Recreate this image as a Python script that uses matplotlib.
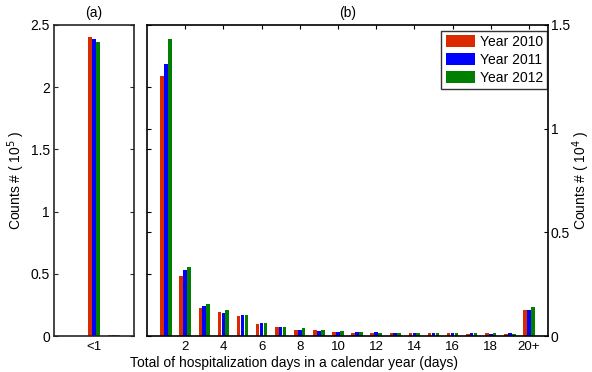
import matplotlib
matplotlib.use('Agg')
import matplotlib.pyplot as plt
import numpy as np

plt.rcParams['font.family'] = ['Liberation Sans', 'DejaVu Sans']
plt.rcParams['font.size'] = 10

# data
years = ['Year 2010', 'Year 2011', 'Year 2012']
colors = ['#dc2a00', '#0000ff', '#007f00']

# panel (a): counts in units of 1e5
a_pos = [0, 1]
a_vals = [
    [2.403, 0.006],
    [2.387, 0.006],
    [2.366, 0.006],
]

# panel (b): days 1..20 (20 = "20+"), counts in units of 1e4
b_days = list(range(1, 21))
b_vals = [
    [1.254, 0.289, 0.135, 0.116, 0.096, 0.058, 0.043, 0.029, 0.029, 0.019,
     0.014, 0.014, 0.014, 0.014, 0.014, 0.014, 0.010, 0.014, 0.010, 0.125],
    [1.312, 0.318, 0.145, 0.111, 0.101, 0.063, 0.043, 0.029, 0.024, 0.019,
     0.019, 0.019, 0.014, 0.014, 0.014, 0.014, 0.014, 0.010, 0.014, 0.125],
    [1.433, 0.333, 0.154, 0.125, 0.101, 0.063, 0.043, 0.039, 0.029, 0.024,
     0.019, 0.014, 0.014, 0.014, 0.014, 0.014, 0.014, 0.014, 0.010, 0.140],
]
b_ticks = [2, 4, 6, 8, 10, 12, 14, 16, 18, 20]
b_ticklabels = ['2', '4', '6', '8', '10', '12', '14', '16', '18', '20+']

W, H = 592, 372
fig = plt.figure(figsize=(W / 100, H / 100), dpi=100)
ax_a = fig.add_axes([54 / W, 1 - 336 / H, 80 / W, 311 / H])
ax_b = fig.add_axes([147 / W, 1 - 336 / H, 401 / W, 311 / H])

offsets = [-0.205, 0, 0.205]
bw = 0.19

for k in range(3):
    ax_a.bar(np.array(a_pos) + offsets[k], a_vals[k], width=bw,
             color=colors[k], linewidth=0)
    ax_b.bar(np.array(b_days) + offsets[k], b_vals[k], width=bw,
             color=colors[k], linewidth=0, label=years[k])

# panel (a)
ax_a.set_xlim(-2, 2)
ax_a.set_ylim(0, 2.5)
ax_a.set_xticks([0])
ax_a.set_xticklabels(['<1'])
ax_a.set_yticks([0, 0.5, 1, 1.5, 2, 2.5])
ax_a.set_yticklabels(['0', '0.5', '1', '1.5', '2', '2.5'])
ax_a.tick_params(direction='in', length=3, width=0.8, left=True, right=True,
                 top=False, bottom=False, colors='#262626', labelcolor='black',
                 pad=3)
ax_a.tick_params(axis='x', pad=3.5, labelsize=9.5)
for s in ax_a.spines.values():
    s.set_color('#262626')
    s.set_linewidth(1.2)
ax_a.set_title('(a)', fontsize=10, pad=6)

# panel (b)
ax_b.set_xlim(0, 21)
ax_b.set_ylim(0, 1.5)
ax_b.set_xticks(b_ticks)
ax_b.set_xticklabels(b_ticklabels)
ax_b.set_yticks([0, 0.5, 1, 1.5])
ax_b.set_yticklabels(['0', '0.5', '1', '1.5'])
ax_b.yaxis.tick_right()
ax_b.tick_params(direction='in', length=3, width=0.8, left=True, right=True,
                 top=True, bottom=False, labelleft=False, labelright=True,
                 pad=2)
ax_b.tick_params(axis='x', pad=3.5, labelsize=9.5)
for s in ax_b.spines.values():
    s.set_color('black')
    s.set_linewidth(1.2)
ax_b.set_title('(b)', fontsize=10, pad=6)

# extra ticks of the (a) scale on the left edge of (b)
sec = ax_b.secondary_yaxis('left', functions=(lambda v: v * 2.5 / 1.5,
                                              lambda v: v * 1.5 / 2.5))
sec.set_yticks([0.5, 1, 1.5, 2])
sec.tick_params(direction='in', length=3, width=0.8, labelleft=False)
sec.spines['left'].set_visible(False)

leg = ax_b.legend(loc='upper right', bbox_to_anchor=(547 / W, 1 - 31 / H),
                  bbox_transform=fig.transFigure, borderaxespad=0,
                  frameon=True, fancybox=False,
                  handlelength=2.1, handleheight=0.95, handletextpad=0.35,
                  borderpad=0.3, labelspacing=0.28, fontsize=10)
leg.get_frame().set_edgecolor('black')
leg.get_frame().set_linewidth(1.0)

fig.text(16 / W, 1 - 180 / H, 'Counts # ( 10$^5$ )', rotation=90,
         ha='center', va='center', fontsize=10)
fig.text(581 / W, 1 - 180 / H, 'Counts # ( 10$^4$ )', rotation=90,
         ha='center', va='center', fontsize=10)
fig.text(294 / W, 1 - 363 / H,
         'Total of hospitalization days in a calendar year (days)',
         ha='center', va='center', fontsize=10)

fig.savefig('out.png', dpi=100)
